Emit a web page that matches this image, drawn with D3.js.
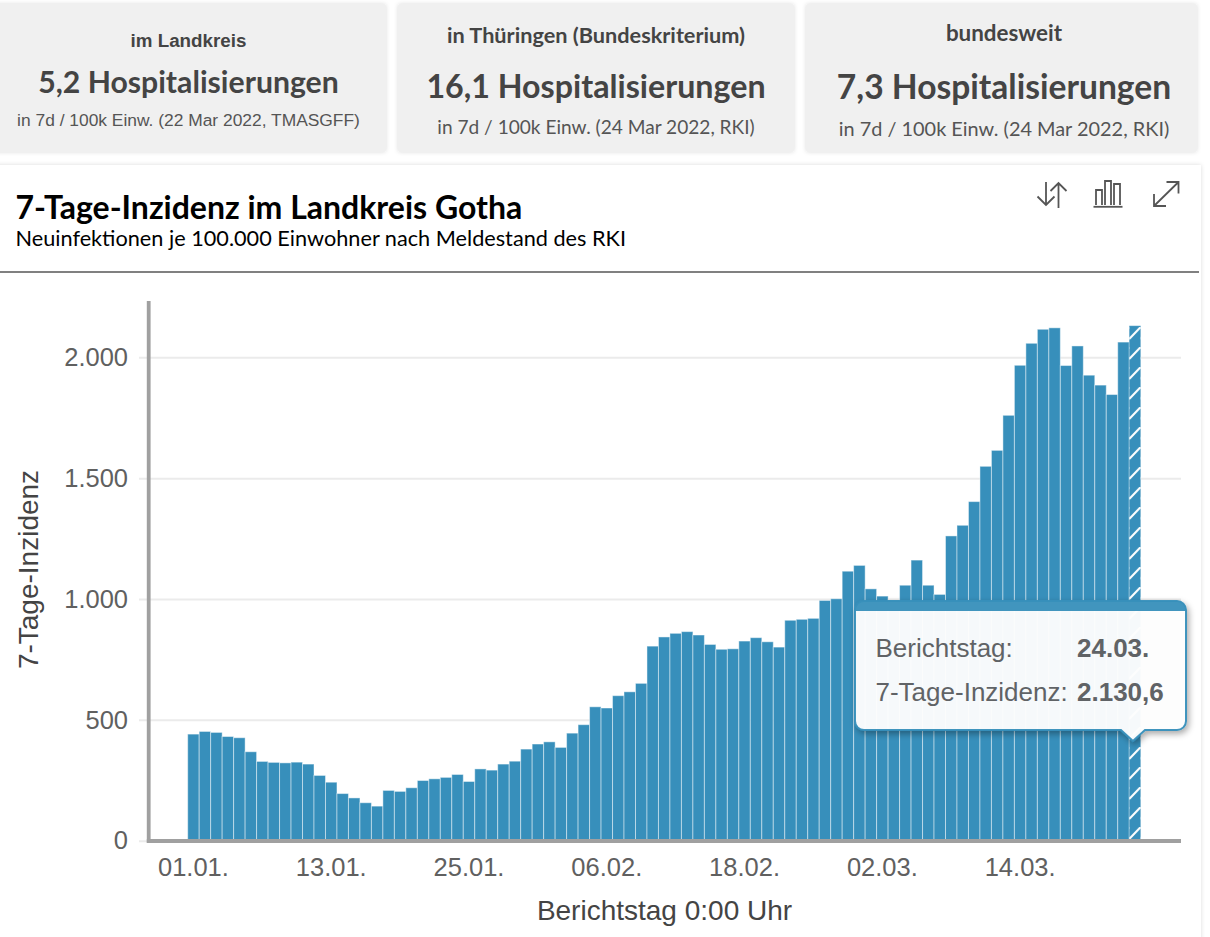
<!DOCTYPE html>
<html>
<head>
<meta charset="utf-8">
<title>7-Tage-Inzidenz im Landkreis Gotha</title>
<script src="https://cdn.jsdelivr.net/npm/d3@7"></script>
<style>
    html, body { margin: 0; padding: 0; background: #fff; }
    svg { display: block; }
    .lato { font-family: Lato, sans-serif; }
    .sans { font-family: "Liberation Sans", Arial, sans-serif; }
    .icon { fill: none; stroke: #555; stroke-width: 1.8; }
</style>
</head>
<body>
<script>
(function(){

    //report days, one per bar
    var days = ["01.01.","02.01.","03.01.","04.01.","05.01.","06.01.","07.01.","08.01.","09.01.","10.01.",
        "11.01.","12.01.","13.01.","14.01.","15.01.","16.01.","17.01.","18.01.","19.01.","20.01.",
        "21.01.","22.01.","23.01.","24.01.","25.01.","26.01.","27.01.","28.01.","29.01.","30.01.","31.01.",
        "01.02.","02.02.","03.02.","04.02.","05.02.","06.02.","07.02.","08.02.","09.02.","10.02.",
        "11.02.","12.02.","13.02.","14.02.","15.02.","16.02.","17.02.","18.02.","19.02.","20.02.",
        "21.02.","22.02.","23.02.","24.02.","25.02.","26.02.","27.02.","28.02.",
        "01.03.","02.03.","03.03.","04.03.","05.03.","06.03.","07.03.","08.03.","09.03.","10.03.",
        "11.03.","12.03.","13.03.","14.03.","15.03.","16.03.","17.03.","18.03.","19.03.","20.03.",
        "21.03.","22.03.","23.03.","24.03."];

    //7-day incidence
    var incidence = [441,452,448,431,426,368,328,324,322,325,
        317,270,242,195,177,157,143,208,204,219,
        249,256,262,274,245,297,292,317,329,379,400,
        409,386,445,480,554,549,600,616,651,805,
        843,858,865,851,812,792,794,826,840,823,
        801,912,916,920,994,1001,1115,1139,
        1042,1012,995,1057,1161,1057,1019,1261,1305,1403,
        1549,1615,1760,1967,2058,2116,2122,1966,2047,1926,
        1885,1846,2063,2130.6];

    var xTickDays = ["01.01.","13.01.","25.01.","06.02.","18.02.","02.03.","14.03."];
    var yTickValues = [0,500,1000,1500,2000];

    //the three cards above the chart
    var cardHeads = ["im Landkreis","in Thüringen (Bundeskriterium)","bundesweit"];
    var cardValues = ["5,2 Hospitalisierungen","16,1 Hospitalisierungen","7,3 Hospitalisierungen"];
    var cardNotes = ["in 7d / 100k Einw. (22 Mar 2022, TMASGFF)","in 7d / 100k Einw. (24 Mar 2022, RKI)","in 7d / 100k Einw. (24 Mar 2022, RKI)"];

    var width = 1210,
        height = 937;

    //plot frame
    var plotLeft = 148.7,
        plotRight = 1181,
        plotTop = 301,
        plotBottom = 840.7,
        barsLeft = 187.7,
        barsRight = 1140.7,
        yMax = 2233;

    var barColor = "#378fbb";

    var de = d3.formatLocale({decimal: ",", thousands: ".", grouping: [3], currency: ["", "€"]});

    var x = d3.scaleBand().domain(days).range([barsLeft, barsRight]);
    var y = d3.scaleLinear().domain([0, yMax]).range([plotBottom, plotTop]);

    var svg = d3.select("body")
        .append("svg")
        .attr("width", width)
        .attr("height", height);

    setDefs();
    setCards();
    setPanel();
    setChart();
    setTooltip();

    function setDefs(){
        var defs = svg.append("defs");

        var soft = defs.append("filter").attr("id", "soft")
            .attr("x", "-5%").attr("y", "-10%").attr("width", "110%").attr("height", "120%");
        soft.append("feDropShadow")
            .attr("dx", 0).attr("dy", 0).attr("stdDeviation", 2)
            .attr("flood-color", "#000").attr("flood-opacity", 0.14);

        var tipShadow = defs.append("filter").attr("id", "tipShadow")
            .attr("x", "-10%").attr("y", "-10%").attr("width", "120%").attr("height", "125%");
        tipShadow.append("feDropShadow")
            .attr("dx", 2).attr("dy", 3).attr("stdDeviation", 3)
            .attr("flood-color", "#000").attr("flood-opacity", 0.35);

        //hatching of the last, still incomplete day
        var hatch = defs.append("pattern").attr("id", "hatch")
            .attr("patternUnits", "userSpaceOnUse")
            .attr("width", x.bandwidth()).attr("height", 20)
            .attr("patternTransform", "translate(" + x(days[days.length - 1]) + ",327)");
        hatch.append("rect")
            .attr("width", x.bandwidth()).attr("height", 20)
            .attr("fill", barColor);
        hatch.append("line")
            .attr("x1", 0).attr("y1", 12).attr("x2", x.bandwidth()).attr("y2", 0)
            .attr("stroke", "#fff").attr("stroke-width", 2.1);
    }

    function setCards(){
        var cards = [
            {x: -6, w: 392, cx: 188.5, head: 47, headFont: "sans", headSize: 18.8, value: 93, valueSize: 30.2, note: 126, noteFont: "sans", noteSize: 17.4},
            {x: 398, w: 396, cx: 596, head: 42.5, headFont: "lato", headSize: 21.7, value: 98, valueSize: 32.2, note: 134, noteFont: "lato", noteSize: 19.1},
            {x: 806, w: 391, cx: 1004, head: 40.5, headFont: "lato", headSize: 22.4, value: 99, valueSize: 33.6, note: 136, noteFont: "lato", noteSize: 19.9}
        ];

        cards.forEach(function(c, i){
            svg.append("rect")
                .attr("x", c.x).attr("y", 4)
                .attr("width", c.w).attr("height", 148)
                .attr("rx", 2)
                .attr("fill", "#f0f0f0")
                .attr("filter", "url(#soft)");

            svg.append("text")
                .attr("class", c.headFont)
                .attr("x", c.cx).attr("y", c.head)
                .attr("text-anchor", "middle")
                .attr("font-size", c.headSize)
                .attr("font-weight", 700)
                .attr("fill", "#444")
                .text(cardHeads[i]);

            svg.append("text")
                .attr("class", "lato")
                .attr("x", c.cx).attr("y", c.value)
                .attr("text-anchor", "middle")
                .attr("font-size", c.valueSize)
                .attr("font-weight", 700)
                .attr("fill", "#444")
                .text(cardValues[i]);

            svg.append("text")
                .attr("class", c.noteFont)
                .attr("x", c.cx).attr("y", c.note)
                .attr("text-anchor", "middle")
                .attr("font-size", c.noteSize)
                .attr("fill", "#555")
                .text(cardNotes[i]);
        });
    }

    function setPanel(){
        svg.append("rect")
            .attr("x", -6).attr("y", 165)
            .attr("width", 1207).attr("height", 790)
            .attr("fill", "#fff")
            .attr("filter", "url(#soft)");

        svg.append("text")
            .attr("class", "lato")
            .attr("x", 15.5).attr("y", 219)
            .attr("font-size", 32)
            .attr("font-weight", 700)
            .attr("fill", "#000")
            .text("7-Tage-Inzidenz im Landkreis Gotha");

        svg.append("text")
            .attr("class", "lato")
            .attr("x", 15.5).attr("y", 246)
            .attr("font-size", 21.7)
            .attr("fill", "#000")
            .text("Neuinfektionen je 100.000 Einwohner nach Meldestand des RKI");

        svg.append("line")
            .attr("x1", 0).attr("x2", 1199)
            .attr("y1", 272).attr("y2", 272)
            .attr("stroke", "#808080")
            .attr("stroke-width", 2);

        //toolbar icons
        var icons = svg.append("g").attr("class", "icons");
        icons.append("path").attr("class", "icon")
            .attr("d", "M1046,182V205M1037.5,196.5L1046,205L1054.5,196.5M1058.5,208V183M1050.5,191L1058.5,183L1066.5,191");
        icons.append("path").attr("class", "icon")
            .attr("d", "M1096,205V190H1102V205M1105,205V181H1111V205M1114,205V184H1120V205");
        icons.append("path").attr("class", "icon")
            .attr("d", "M1093.5,206.8H1122.5")
            .attr("stroke-width", 2);
        icons.append("path").attr("class", "icon")
            .attr("d", "M1154,206L1178.5,182M1166.5,182H1178.5V193.5M1154,194V206H1166");
    }

    function setChart(){
        var chart = svg.append("g").attr("class", "chart");

        //y axis with gridlines
        var yAxis = chart.append("g")
            .attr("class", "axis y")
            .attr("transform", "translate(" + plotLeft + ",0)")
            .call(d3.axisLeft(y)
                .tickValues(yTickValues)
                .tickFormat(de.format(",d"))
                .tickPadding(20.7)
                .tickSize(0));
        yAxis.select(".domain").remove();
        yAxis.selectAll(".tick line")
            .attr("x1", -9.7)
            .attr("x2", plotRight - plotLeft)
            .attr("stroke", "#ebebeb")
            .attr("stroke-width", 2);

        //bars
        var lastDay = days[days.length - 1];
        chart.selectAll(".bar")
            .data(days)
            .enter()
            .append("rect")
            .attr("class", "bar")
            .attr("x", function(d){ return x(d); })
            .attr("width", x.bandwidth())
            .attr("y", function(d, i){ return y(incidence[i]); })
            .attr("height", function(d, i){ return y(0) - y(incidence[i]); })
            .attr("fill", function(d){ return d == lastDay ? "url(#hatch)" : barColor; })
            .attr("stroke", "#fff")
            .attr("stroke-opacity", function(d){ return d == lastDay ? 0.2 : 0.45; })
            .attr("stroke-width", 1);

        //axis lines above the bars
        chart.append("line")
            .attr("x1", plotLeft).attr("x2", plotLeft)
            .attr("y1", plotTop).attr("y2", plotBottom + 2)
            .attr("stroke", "#a0a0a0")
            .attr("stroke-width", 3.8);
        chart.append("line")
            .attr("x1", plotLeft - 1.9).attr("x2", plotRight)
            .attr("y1", plotBottom + 0.3).attr("y2", plotBottom + 0.3)
            .attr("stroke", "#a0a0a0")
            .attr("stroke-width", 3.8);

        //x axis
        var xAxis = chart.append("g")
            .attr("class", "axis x")
            .attr("transform", "translate(0," + plotBottom + ")")
            .call(d3.axisBottom(x)
                .tickValues(xTickDays)
                .tickSize(0)
                .tickPadding(17));
        xAxis.select(".domain").remove();

        chart.selectAll(".axis text")
            .attr("class", "sans")
            .style("font-family", "'Liberation Sans', Arial, sans-serif")
            .style("font-size", "25.5px")
            .attr("fill", "#606060");

        //axis titles
        chart.append("text")
            .attr("class", "sans")
            .attr("x", 664.5).attr("y", 920)
            .attr("text-anchor", "middle")
            .attr("font-size", 28)
            .attr("fill", "#444")
            .text("Berichtstag 0:00 Uhr");

        chart.append("text")
            .attr("class", "sans")
            .attr("transform", "translate(38,569.5) rotate(-90)")
            .attr("text-anchor", "middle")
            .attr("font-size", 28)
            .attr("fill", "#444")
            .text("7-Tage-Inzidenz");
    }

    function setTooltip(){
        var last = days.length - 1;
        var tipX = x(days[last]) + x.bandwidth() / 2 - 2;

        var tooltip = svg.append("g").attr("class", "tooltip");

        var left = 855, right = 1186, top = 601, bottom = 730, r = 9;

        //outline with the little arrow to the hovered bar
        var outline = "M" + (left + r) + "," + top + "H" + (right - r)
            + "A" + r + "," + r + " 0 0 1 " + right + "," + (top + r)
            + "V" + (bottom - r)
            + "A" + r + "," + r + " 0 0 1 " + (right - r) + "," + bottom
            + "H" + (tipX + 12) + "L" + tipX + "," + (bottom + 11) + "L" + (tipX - 12) + "," + bottom
            + "H" + (left + r)
            + "A" + r + "," + r + " 0 0 1 " + left + "," + (bottom - r)
            + "V" + (top + r)
            + "A" + r + "," + r + " 0 0 1 " + (left + r) + "," + top + "Z";

        tooltip.append("path")
            .attr("d", outline)
            .attr("fill", "#fff")
            .attr("fill-opacity", 0.95)
            .attr("stroke", barColor)
            .attr("stroke-opacity", 0.95)
            .attr("stroke-width", 2)
            .attr("filter", "url(#tipShadow)");

        //blue head of the tooltip
        tooltip.append("path")
            .attr("d", "M" + left + "," + (top + 10) + "V" + (top + r)
                + "A" + r + "," + r + " 0 0 1 " + (left + r) + "," + top + "H" + (right - r)
                + "A" + r + "," + r + " 0 0 1 " + right + "," + (top + r) + "V" + (top + 10) + "Z")
            .attr("fill", barColor)
            .attr("fill-opacity", 0.95);

        var rows = [
            {label: "Berichtstag:", value: days[last], y: 657},
            {label: "7-Tage-Inzidenz:", value: de.format(",.1f")(incidence[last]), y: 701}
        ];

        rows.forEach(function(row){
            tooltip.append("text")
                .attr("class", "sans")
                .attr("x", 875.5).attr("y", row.y)
                .attr("font-size", 26)
                .attr("fill", "#606366")
                .text(row.label);
            tooltip.append("text")
                .attr("class", "sans")
                .attr("x", 1077).attr("y", row.y)
                .attr("font-size", 26)
                .attr("font-weight", 700)
                .attr("fill", "#606366")
                .text(row.value);
        });
    }

})();
</script>
</body>
</html>
